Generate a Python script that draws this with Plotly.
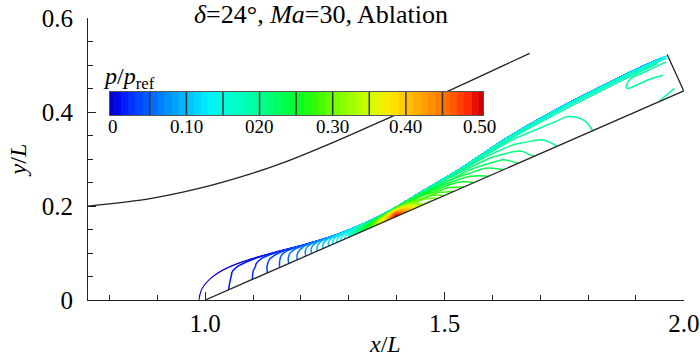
import math
import plotly.graph_objects as go

# ---------------- text ----------------
title_text = "<i>δ</i>=24°, <i>Ma</i>=30, Ablation"
legend_title = "<i>p</i>/<i>p</i><sub>ref</sub>"
x_title = "<i>x</i>/<i>L</i>"
y_title = "<i>y</i>/<i>L</i>"

x_tickvals = [1.0, 1.5, 2.0]
x_ticktext = ["1.0", "1.5", "2.0"]
y_tickvals = [0.0, 0.2, 0.4, 0.6]
y_ticktext = ["0", "0.2", "0.4", "0.6"]
cb_tickvals = [0.0, 0.1, 0.2, 0.3, 0.4, 0.5]
cb_ticktext = ["0", "0.10", "020", "0.30", "0.40", "0.50"]
cb_dividers = [0.05, 0.10, 0.15, 0.20, 0.25, 0.30, 0.35, 0.40, 0.45]

# ---------------- geometry ----------------
wedge_deg = 24.0
shock_x = [0.755, 0.885, 0.989, 1.093, 1.162, 1.275, 1.386, 1.504, 1.616, 1.678]
shock_y = [0.200, 0.216, 0.238, 0.268, 0.292, 0.339, 0.389, 0.443, 0.496, 0.525]

body_x = [1.0, 2.0, 1.9654]
body_y = [0.0, 0.4452, 0.5229]

# stations along the wedge surface and the outer edge of the ablation layer
wall_x = [1.0, 1.012, 1.03, 1.066, 1.114, 1.16, 1.21, 1.26, 1.30, 1.35, 1.40,
          1.45, 1.50, 1.56, 1.62, 1.68, 1.75, 1.82, 1.89, 1.95, 2.00]
outer_x = [0.986, 0.9925, 1.0125, 1.0475, 1.0969, 1.1458, 1.1994, 1.2523, 1.2935,
           1.3437, 1.3923, 1.4394, 1.4866, 1.5429, 1.5980, 1.6540, 1.7207, 1.7883,
           1.8567, 1.9158, 1.9654]
outer_y = [0.0, 0.025, 0.049, 0.0709, 0.0892, 0.1032, 0.1173, 0.1331, 0.1482,
           0.1700, 0.1954, 0.2241, 0.2527, 0.2877, 0.3254, 0.3612, 0.3997, 0.4363,
           0.4711, 0.4997, 0.5229]
# fraction of the layer thickness (0 = wall, 1 = outer edge)
b_frac = [0.0, 0.35, 0.65, 0.82, 0.92, 0.97, 1.0]

# p/p_ref estimated on the stations (one row per b_frac level)
p_b000 = [0.015, 0.016, 0.018, 0.022, 0.034, 0.052, 0.080, 0.122, 0.170, 0.300, 0.510,
          0.330, 0.290, 0.261, 0.241, 0.222, 0.207, 0.199, 0.194, 0.190, 0.188]
p_b035 = [0.015, 0.016, 0.017, 0.021, 0.032, 0.050, 0.078, 0.120, 0.165, 0.280, 0.460,
          0.310, 0.275, 0.251, 0.233, 0.217, 0.204, 0.199, 0.197, 0.194, 0.193]
p_b065 = [0.015, 0.015, 0.016, 0.020, 0.029, 0.046, 0.073, 0.114, 0.155, 0.240, 0.370,
          0.276, 0.251, 0.232, 0.218, 0.207, 0.201, 0.199, 0.200, 0.201, 0.203]
p_b082 = [0.014, 0.014, 0.015, 0.018, 0.025, 0.040, 0.066, 0.105, 0.140, 0.200, 0.290,
          0.245, 0.229, 0.215, 0.205, 0.199, 0.197, 0.197, 0.199, 0.202, 0.205]
p_b092 = [0.013, 0.013, 0.013, 0.015, 0.020, 0.031, 0.052, 0.085, 0.110, 0.140, 0.190,
          0.196, 0.193, 0.189, 0.186, 0.185, 0.185, 0.185, 0.185, 0.185, 0.185]
p_b097 = [0.011, 0.011, 0.011, 0.011, 0.012, 0.016, 0.025, 0.040, 0.050, 0.060, 0.080,
          0.110, 0.135, 0.145, 0.148, 0.148, 0.148, 0.148, 0.148, 0.148, 0.148]
p_b100 = [0.0] * 21
p_rows = [p_b000, p_b035, p_b065, p_b082, p_b092, p_b097, p_b100]

# ---------------- colour map ----------------
rainbow = [
    [0.00, "rgb(0,0,200)"], [0.02, "rgb(0,20,255)"], [0.10, "rgb(0,100,255)"],
    [0.20, "rgb(0,190,255)"], [0.26, "rgb(0,240,255)"], [0.32, "rgb(0,255,210)"],
    [0.40, "rgb(0,255,150)"], [0.50, "rgb(0,255,40)"], [0.56, "rgb(60,250,0)"],
    [0.62, "rgb(130,255,0)"], [0.70, "rgb(210,255,0)"], [0.76, "rgb(255,230,0)"],
    [0.82, "rgb(255,180,0)"], [0.90, "rgb(255,120,0)"], [0.98, "rgb(255,30,0)"],
    [1.00, "rgb(200,0,0)"],
]

# ---------------- carpet mesh (linear blend wall -> outer edge) ----------------
tan_w = math.tan(math.radians(wedge_deg))
wall_y = [(xw - 1.0) * tan_w for xw in wall_x]
a_idx = list(range(len(wall_x)))
mesh_x = [[wx * (1 - b) + ox * b for wx, ox in zip(wall_x, outer_x)] for b in b_frac]
mesh_y = [[wy * (1 - b) + oy * b for wy, oy in zip(wall_y, outer_y)] for b in b_frac]

hidden_axis = dict(showgrid=False, showline=False, showticklabels="none",
                   startline=False, endline=False, minorgridcount=0,
                   color="rgba(0,0,0,0)")

FONT = "Liberation Serif, Times New Roman, serif"
INK = "#222222"

fig = go.Figure()

fig.add_trace(go.Carpet(
    a=a_idx, b=b_frac, x=mesh_x, y=mesh_y, carpet="layer",
    aaxis=dict(hidden_axis, smoothing=1),
    baxis=dict(hidden_axis, smoothing=0),
    xaxis="x", yaxis="y",
))

fig.add_trace(go.Contourcarpet(
    a=a_idx, b=b_frac, z=p_rows, carpet="layer",
    autocontour=False,
    contours=dict(start=0.0102, end=0.5002, size=0.01, coloring="lines"),
    colorscale=rainbow, showscale=False,
    line=dict(width=1.5, smoothing=1),
    xaxis="x", yaxis="y",
))

fig.add_trace(go.Scatter(
    x=shock_x, y=shock_y, mode="lines",
    line=dict(color=INK, width=1.3, shape="spline", smoothing=0.8),
    hoverinfo="skip", showlegend=False,
))
fig.add_trace(go.Scatter(
    x=body_x, y=body_y, mode="lines",
    line=dict(color=INK, width=1.3),
    hoverinfo="skip", showlegend=False,
))

# ---------------- colour bar ----------------
cb_levels = [round(0.01 * i, 2) for i in range(51)]
cb_edges = [-0.0045] + cb_levels + [0.5055]
cb_vals = [0.0] + [lv + 0.005 for lv in cb_levels[:-1]] + [0.5]
fig.add_trace(go.Heatmap(
    x=cb_edges, y=[0, 1], z=[cb_vals], colorscale=rainbow, zmin=0, zmax=0.5,
    showscale=False, xaxis="x2", yaxis="y2", hoverinfo="skip",
))
div_x, div_y = [], []
for d in cb_dividers:
    div_x += [d, d, None]
    div_y += [0, 1, None]
fig.add_trace(go.Scatter(
    x=div_x, y=div_y, mode="lines", line=dict(color="#333333", width=1.5),
    xaxis="x2", yaxis="y2", hoverinfo="skip", showlegend=False,
))

annotations = [
    dict(text=title_text, x=0.391, y=1.014, xref="paper", yref="paper",
         xanchor="center", yanchor="middle", showarrow=False,
         font=dict(size=26, family=FONT)),
    dict(text=legend_title, x=0.0218, y=0.787, xref="paper", yref="paper",
         xanchor="left", yanchor="middle", showarrow=False,
         font=dict(size=24, family=FONT)),
    dict(text=x_title, x=0.498, y=-0.157, xref="paper", yref="paper",
         xanchor="center", yanchor="middle", showarrow=False,
         font=dict(size=24, family=FONT)),
    dict(text=y_title, x=-0.117, y=0.496, xref="paper", yref="paper",
         xanchor="center", yanchor="middle", showarrow=False, textangle=-90,
         font=dict(size=24, family=FONT)),
]
for tv, tt in zip(cb_tickvals, cb_ticktext):
    annotations.append(dict(text=tt, x=tv, y=0.617, xref="x2", yref="paper",
                            xanchor="center", yanchor="middle", showarrow=False,
                            font=dict(size=19, family=FONT)))

fig.update_layout(
    width=700, height=362,
    margin=dict(l=88, r=16, t=18, b=62, autoexpand=False),
    paper_bgcolor="white", plot_bgcolor="white",
    showlegend=False,
    font=dict(family=FONT, color="black", size=24),
    xaxis=dict(
        domain=[0, 1], range=[0.755, 2.0005], showgrid=False, zeroline=False,
        automargin=False, ticklabeloverflow="allow",
        showline=True, linecolor=INK, linewidth=1.2,
        ticks="inside", ticklen=8, tickwidth=1.2, tickcolor=INK,
        tickmode="array", tickvals=x_tickvals, ticktext=x_ticktext,
        tickfont=dict(size=25, family=FONT), ticklabelstandoff=1,
        minor=dict(dtick=0.1, tick0=0.0, ticks="inside", ticklen=5,
                   tickwidth=1.2, tickcolor=INK, showgrid=False),
    ),
    yaxis=dict(
        domain=[0, 1], range=[0, 0.6005], showgrid=False, zeroline=False,
        automargin=False, ticklabeloverflow="allow",
        showline=True, linecolor=INK, linewidth=1.2,
        ticks="inside", ticklen=8, tickwidth=1.2, tickcolor=INK,
        tickmode="array", tickvals=y_tickvals, ticktext=y_ticktext,
        tickfont=dict(size=25, family=FONT), ticklabelstandoff=9,
        minor=dict(dtick=0.05, tick0=0.0, ticks="inside", ticklen=5,
                   tickwidth=1.2, tickcolor=INK, showgrid=False),
    ),
    xaxis2=dict(
        domain=[0.0369, 0.6628], anchor="y2", range=[-0.0045, 0.5055],
        automargin=False,
        showgrid=False, zeroline=False, showline=True, mirror=True,
        linecolor="#555555", linewidth=1.2, ticks="", showticklabels=False,
    ),
    yaxis2=dict(
        domain=[0.656, 0.7376], anchor="x2", range=[0, 1],
        automargin=False,
        showgrid=False, zeroline=False, showline=True, mirror=True,
        linecolor="#555555", linewidth=1.2, ticks="", showticklabels=False,
    ),
    annotations=annotations,
)

# remove the default page margin so the figure sits at the window origin
fig.write_html("out.html",
               config={"displayModeBar": False},
               post_script="document.body.style.margin='0';document.body.style.padding='0';")
